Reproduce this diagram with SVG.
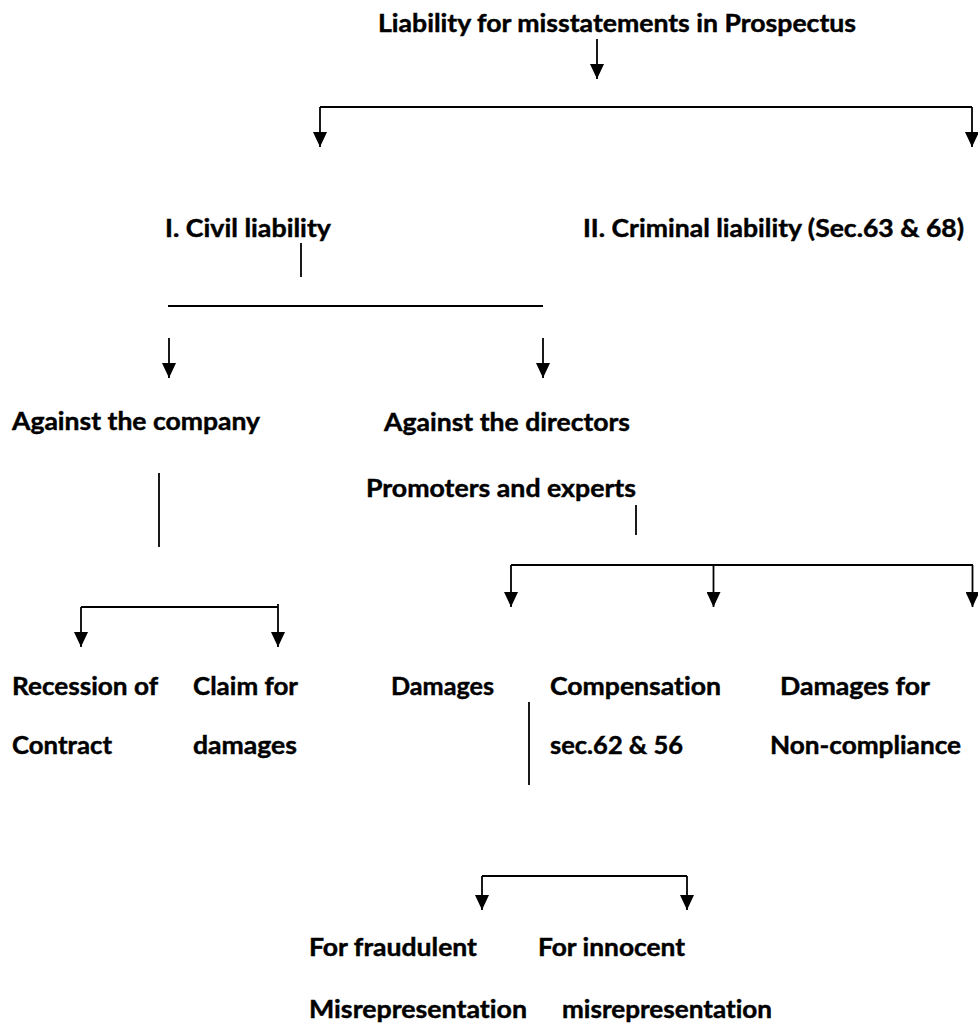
<svg xmlns="http://www.w3.org/2000/svg" width="978" height="1030" viewBox="0 0 978 1030">
<style>
  text { font-family: "Lato", "Liberation Sans", sans-serif; font-weight: bold; font-size: 25px; fill: #000; stroke: #000; stroke-width: 0.45; font-variant-ligatures: none; font-feature-settings: "liga" 0, "clig" 0, "dlig" 0; }
  .ln { stroke: #000; stroke-width: 1.8; fill: none; }
  .ar { stroke: #000; stroke-width: 1.8; fill: none; marker-end: url(#arrow); }
</style>
<defs>
  <marker id="arrow" viewBox="0 0 15 14" refX="15" refY="7" markerWidth="15" markerHeight="14" markerUnits="userSpaceOnUse" orient="auto">
    <path d="M0,0 L15,7 L0,14 Z" fill="#000"/>
  </marker>
</defs>
<rect width="978" height="1030" fill="#fff"/>

<g id="connectors">
  <path class="ar" d="M597,39 V79"/>
  <path class="ln" d="M320,107 H972"/>
  <path class="ar" d="M320,107 V147"/>
  <path class="ar" d="M972,107 V147"/>

  <path class="ln" d="M301,243 V277"/>
  <path class="ln" d="M168,306 H543"/>
  <path class="ar" d="M169,338 V378"/>
  <path class="ar" d="M543,338 V378"/>

  <path class="ln" d="M159,473 V547"/>
  <path class="ln" d="M81,607 H278"/>
  <path class="ar" d="M81,607 V647"/>
  <path class="ar" d="M278,604 V647"/>

  <path class="ln" d="M636,505 V535"/>
  <path class="ln" d="M511,565 H973"/>
  <path class="ar" d="M511,565 V607"/>
  <path class="ar" d="M713.5,565 V607"/>
  <path class="ar" d="M972.5,565 V607"/>

  <path class="ln" d="M529,702 V785"/>
  <path class="ln" d="M482,876 H687"/>
  <path class="ar" d="M482,876 V910"/>
  <path class="ar" d="M687,876 V910"/>
</g>

<g id="title"><text x="378" y="32" textLength="478" lengthAdjust="spacingAndGlyphs">Liability for misstatements in Prospectus</text></g>
<g id="civil"><text x="165" y="237" textLength="166" lengthAdjust="spacingAndGlyphs">I. Civil liability</text></g>
<g id="criminal"><text x="583" y="237" textLength="381" lengthAdjust="spacingAndGlyphs">II. Criminal liability (Sec.63 &amp; 68)</text></g>
<g id="company"><text x="12" y="430" textLength="248" lengthAdjust="spacingAndGlyphs">Against the company</text></g>
<g id="directors">
  <text x="384" y="431" textLength="246" lengthAdjust="spacingAndGlyphs">Against the directors</text>
  <text x="366" y="497" textLength="270" lengthAdjust="spacingAndGlyphs">Promoters and experts</text>
</g>
<g id="rescission">
  <text x="12" y="695" textLength="146" lengthAdjust="spacingAndGlyphs">Recession of</text>
  <text x="12" y="754" textLength="100" lengthAdjust="spacingAndGlyphs">Contract</text>
</g>
<g id="claim">
  <text x="193" y="695" textLength="105" lengthAdjust="spacingAndGlyphs">Claim for</text>
  <text x="193" y="754" textLength="104" lengthAdjust="spacingAndGlyphs">damages</text>
</g>
<g id="damages"><text x="391" y="695" textLength="103" lengthAdjust="spacingAndGlyphs">Damages</text></g>
<g id="compensation">
  <text x="550" y="695" textLength="171" lengthAdjust="spacingAndGlyphs">Compensation</text>
  <text x="550" y="754" textLength="133" lengthAdjust="spacingAndGlyphs">sec.62 &amp; 56</text>
</g>
<g id="noncompliance">
  <text x="780" y="695" textLength="150" lengthAdjust="spacingAndGlyphs">Damages for</text>
  <text x="770" y="754" textLength="191" lengthAdjust="spacingAndGlyphs">Non-compliance</text>
</g>
<g id="fraudulent">
  <text x="309" y="956" textLength="168" lengthAdjust="spacingAndGlyphs">For fraudulent</text>
  <text x="309" y="1018" textLength="218" lengthAdjust="spacingAndGlyphs">Misrepresentation</text>
</g>
<g id="innocent">
  <text x="538" y="956" textLength="147" lengthAdjust="spacingAndGlyphs">For innocent</text>
  <text x="562" y="1018" textLength="210" lengthAdjust="spacingAndGlyphs">misrepresentation</text>
</g>
</svg>
